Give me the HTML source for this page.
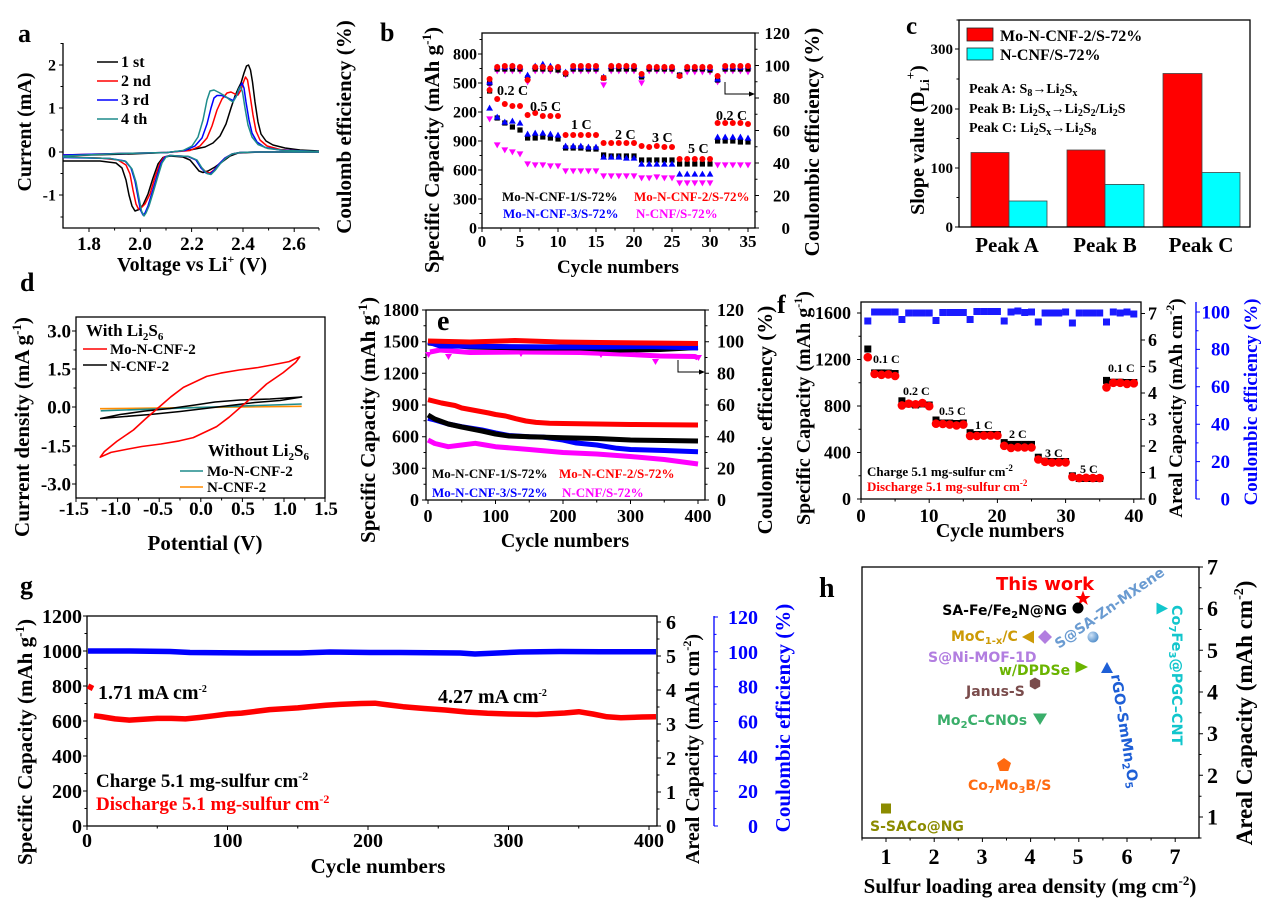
<!DOCTYPE html>
<html><head><meta charset="utf-8">
<style>
html,body{margin:0;padding:0;background:#fff;}
svg{display:block;}
.t{font-family:"Liberation Serif","Times New Roman",serif;font-weight:bold;}
.s{font-family:"DejaVu Sans","Liberation Sans",sans-serif;font-weight:bold;}
</style></head><body>
<svg width="1269" height="906" viewBox="0 0 1269 906" xmlns="http://www.w3.org/2000/svg">
<defs>
<marker id="bR" markerUnits="userSpaceOnUse" markerWidth="10" markerHeight="10" refX="5" refY="5" overflow="visible"><circle cx="5" cy="5" r="3" fill="#f00"/></marker>
<marker id="bK" markerUnits="userSpaceOnUse" markerWidth="10" markerHeight="10" refX="5" refY="5" overflow="visible"><rect x="2.4" y="2.4" width="5.2" height="5.2" fill="#000"/></marker>
<marker id="bB" markerUnits="userSpaceOnUse" markerWidth="10" markerHeight="10" refX="5" refY="5" overflow="visible"><path d="M5,1.6 L8.4,7.6 L1.6,7.6Z" fill="#00f"/></marker>
<marker id="bM" markerUnits="userSpaceOnUse" markerWidth="10" markerHeight="10" refX="5" refY="5" overflow="visible"><path d="M1.6,2.4 L8.4,2.4 L5,8.4Z" fill="#f0f"/></marker>
<marker id="fR" markerUnits="userSpaceOnUse" markerWidth="10" markerHeight="10" refX="5" refY="5" overflow="visible"><circle cx="5" cy="5" r="4.3" fill="#f00"/></marker>
<marker id="fK" markerUnits="userSpaceOnUse" markerWidth="10" markerHeight="10" refX="5" refY="5" overflow="visible"><rect x="1.5" y="1.5" width="7" height="7" fill="#000"/></marker>
<marker id="fB" markerUnits="userSpaceOnUse" markerWidth="10" markerHeight="10" refX="5" refY="5" overflow="visible"><rect x="1.5" y="1.5" width="7" height="7" fill="#1a1aff"/></marker>
<radialGradient id="sph" cx="0.35" cy="0.35" r="0.7"><stop offset="0" stop-color="#cfe3f7"/><stop offset="1" stop-color="#4f8cc9"/></radialGradient>
</defs>

<!-- ================= PANEL A ================= -->
<g fill="none" stroke="#000" stroke-width="1.3">
<path d="M63,43V228H319"/>
<path stroke-width="1" d="M59,65h4M59,108h4M59,152h4M59,195h4M60.5,86.5h2.5M60.5,130h2.5M60.5,173.5h2.5M60.5,217h2.5M60.5,43.5h2.5M89,228v4M140.3,228v4M191.6,228v4M243,228v4M294.2,228v4M114.6,228v2.5M166,228v2.5M217.3,228v2.5M268.6,228v2.5M319,228v2.5"/>
</g>
<g fill="none" stroke-width="1.5" stroke-linejoin="round">
<path stroke="#000" d="M63,156 L90,155 L130,154 L167,152.5 L190,150 L205,147 L213,143 L220,136 L226,124 L231,108 L235,96 L238,89 L241,83 L244,73 L246.5,66 L248.5,65 L250.5,70 L252.5,82 L255,102 L258,122 L261,134 L266,141 L273,145 L285,148 L300,150 L319,151"/>
<path stroke="#000" d="M319,152 L260,152 L238,153 L230,156 L222,162 L215,167 L208,171 L203,172.5 L199,171 L195,166 L190,160 L183,157 L170,156 L163,157.5 L158,164 L153,178 L148,194 L143,205 L139,209.5 L135,211 L132,206 L129,195 L126,180 L122,168 L116,163 L100,161 L63,161"/>
<path stroke="#f00" d="M63,155 L120,153.5 L167,152.5 L190,150.5 L200,146 L207,138 L212,126 L217,110 L222,99 L227,93 L231,92 L235,94 L238,95 L241,90 L243.5,82 L245.5,77 L247.5,80 L250,95 L253,115 L256,131 L260,140 L267,146 L280,149.5 L300,151 L319,151.5"/>
<path stroke="#f00" d="M319,152 L255,152 L240,152.5 L232,154 L225,158 L219,164 L214,170 L210,173 L206,172 L201,167 L196,160 L188,156.5 L170,155.5 L164,157 L160,163 L155,177 L150,194 L145,204 L141,208 L138.5,209 L136,204 L133,190 L130,174 L126,165 L118,160 L100,158 L63,157"/>
<path stroke="#00f" d="M63,155 L120,153.5 L167,152.5 L185,150.5 L195,146 L202,138 L207,124 L211,108 L214,98 L217,95.5 L222,95.5 L228,98 L233,100.5 L237,95 L240,87 L242,83 L244,88 L246,102 L249,120 L252,133 L257,142 L265,147.5 L280,150 L319,151.5"/>
<path stroke="#00f" d="M319,152 L255,152 L240,152.5 L232,154 L225,158 L219,164 L214,170.5 L210,174 L206,173 L201,168 L196,160 L188,156.5 L170,155.5 L165,157 L161,163 L157,176 L152,193 L148,206 L145,213 L143,215 L140.5,210 L138,197 L135,181 L131,168 L125,161 L110,158.5 L63,157.5"/>
<path stroke="#1e8c8c" d="M63,156 L120,153.5 L167,152.5 L183,150.5 L192,146 L198,137 L203,120 L207,100 L210,91 L214,90 L219,92.5 L225,96 L230,100 L233,102 L236,97 L239,88.5 L240.5,86.7 L242.5,92 L245,108 L248,125 L252,137 L258,144.5 L268,148.5 L285,150.5 L319,151.5"/>
<path stroke="#1e8c8c" d="M319,152 L255,152 L240,152.5 L232,154 L226,158 L220,164 L215,170.5 L211,174.5 L207,173.5 L202,168 L197,160 L189,156.5 L170,155.5 L166,157 L162,163 L158,176 L153,193 L149,206 L146,213 L144,216 L141.5,211 L139,198 L136,182 L132,169 L126,161.5 L110,158.5 L63,157"/>
<path stroke="#000" d="M97,62H118"/>
<path stroke="#f00" d="M97,81H118"/>
<path stroke="#00f" d="M97,100H118"/>
<path stroke="#1e8c8c" d="M97,119H118"/>
</g>
<g class="t" font-size="16">
<text x="121" y="67">1 st</text><text x="121" y="86">2 nd</text><text x="121" y="105">3 rd</text><text x="121" y="124">4 th</text>
</g>
<g class="t" font-size="16" text-anchor="end">
<text x="56" y="70.5">2</text><text x="56" y="113.5">1</text><text x="56" y="157.5">0</text><text x="56" y="200.5">-1</text>
</g>
<g class="t" font-size="19" text-anchor="middle">
<text x="89" y="250">1.8</text><text x="140" y="250">2.0</text><text x="192" y="250">2.2</text><text x="243" y="250">2.4</text><text x="294" y="250">2.6</text>
</g>
<text class="t" x="18" y="42" font-size="26">a</text>
<text class="t" font-size="20" text-anchor="middle" transform="translate(31,132) rotate(-90)">Current (mA)</text>
<text class="t" x="192" y="271" font-size="20" text-anchor="middle">Voltage vs Li<tspan font-size="12" dy="-8">+</tspan><tspan dy="8"> (V)</tspan></text>
<text class="t" font-size="21" text-anchor="middle" transform="translate(351,127) rotate(-90)">Coulomb efficiency (%)</text>

<!-- ================= PANEL B ================= -->
<g fill="none" stroke="#000" stroke-width="1.3">
<rect x="482" y="33" width="273" height="195"/>
<path stroke-width="1" d="M478,228h4M478,199h4M478,170h4M478,141h4M478,112h4M478,83h4M478,54h4M479.5,213.5h2.5M479.5,184.5h2.5M479.5,155.5h2.5M479.5,126.5h2.5M479.5,97.5h2.5M479.5,68.5h2.5M479.5,39.5h2.5M755,228h4M755,195.5h4M755,163h4M755,130.5h4M755,98h4M755,65.5h4M755,33h4M755,211.75h2.5M755,179.25h2.5M755,146.75h2.5M755,114.25h2.5M755,81.75h2.5M755,49.25h2.5M482,228v4M520,228v4M558,228v4M596,228v4M634,228v4M672,228v4M710,228v4M748,228v4M501,228v2.5M539,228v2.5M577,228v2.5M615,228v2.5M653,228v2.5M691,228v2.5M729,228v2.5"/>
<path stroke-width="1" d="M725,82V94H750"/>
</g>
<path d="M755,94 l-6,-2.5 v5z" fill="#000"/>
<g fill="none" stroke="none">
<polyline marker-start="url(#bM)" marker-mid="url(#bM)" marker-end="url(#bM)" points="489.6,85 497.2,71 504.8,71 512.4,71 520,71 527.6,82 535.2,71 542.8,71 550.4,71 558,71 565.6,75 573.2,71 580.8,71 588.4,71 596,71 603.6,85 611.2,71 618.8,71 626.4,71 634,71 641.6,83 649.2,71 656.8,71 664.4,71 672,71 679.6,76 687.2,72 694.8,72 702.4,72 710,72 717.6,82 725.2,71 732.8,71 740.4,71 748,72"/>
<polyline marker-start="url(#bK)" marker-mid="url(#bK)" marker-end="url(#bK)" points="489.6,83 497.2,69 504.8,69 512.4,69 520,69 527.6,78 535.2,69 542.8,69 550.4,69 558,70 565.6,74 573.2,69 580.8,69 588.4,69 596,69 603.6,78 611.2,69 618.8,69 626.4,69 634,69 641.6,77 649.2,69 656.8,69 664.4,69 672,69 679.6,75 687.2,69 694.8,69 702.4,69 710,70 717.6,80 725.2,69 732.8,69 740.4,69 748,69"/>
<polyline marker-start="url(#bB)" marker-mid="url(#bB)" marker-end="url(#bB)" points="489.6,82 497.2,67 504.8,67 512.4,66 520,67 527.6,75 535.2,66 542.8,64 550.4,66 558,67 565.6,72 573.2,67 580.8,67 588.4,67 596,67 603.6,77 611.2,66 618.8,66 626.4,66 634,66 641.6,75 649.2,67 656.8,67 664.4,67 672,67 679.6,75 687.2,67 694.8,67 702.4,67 710,68 717.6,79 725.2,67 732.8,67 740.4,67 748,66"/>
<polyline marker-start="url(#bR)" marker-mid="url(#bR)" marker-end="url(#bR)" points="489.6,79 497.2,67 504.8,66 512.4,66 520,67 527.6,80 535.2,67 542.8,67 550.4,68 558,67 565.6,73 573.2,66 580.8,66 588.4,66 596,66 603.6,78 611.2,66 618.8,66 626.4,66 634,66 641.6,74 649.2,67 656.8,67 664.4,67 672,67 679.6,76 687.2,67 694.8,67 702.4,67 710,67 717.6,76 725.2,66 732.8,66 740.4,66 748,66"/>
<polyline marker-start="url(#bM)" marker-mid="url(#bM)" marker-end="url(#bM)" points="489.6,119 497.2,145 504.8,150 512.4,152 520,154 527.6,164 535.2,165 542.8,165 550.4,166 558,166 565.6,171 573.2,171 580.8,171 588.4,171 596,171 603.6,176 611.2,176 618.8,176 626.4,176 634,176 641.6,178 649.2,178 656.8,177 664.4,178 672,178 679.6,183 687.2,183 694.8,183 702.4,183 710,183 717.6,165 725.2,165 732.8,165 740.4,165 748,165"/>
<polyline marker-start="url(#bK)" marker-mid="url(#bK)" marker-end="url(#bK)" points="489.6,91 497.2,118 504.8,123 512.4,127 520,130 527.6,138 535.2,138 542.8,137 550.4,138 558,139 565.6,148 573.2,148 580.8,148 588.4,149 596,149 603.6,155 611.2,156 618.8,156 626.4,156 634,156 641.6,160 649.2,160 656.8,160 664.4,160 672,160 679.6,164 687.2,164 694.8,164 702.4,164 710,164 717.6,141 725.2,141 732.8,141 740.4,142 748,142"/>
<polyline marker-start="url(#bB)" marker-mid="url(#bB)" marker-end="url(#bB)" points="489.6,108 497.2,117 504.8,122 512.4,121 520,123 527.6,134 535.2,133 542.8,133 550.4,134 558,135 565.6,146 573.2,146 580.8,146 588.4,147 596,147 603.6,157 611.2,157 618.8,157 626.4,158 634,158 641.6,164 649.2,164 656.8,164 664.4,164 672,164 679.6,174 687.2,174 694.8,174 702.4,174 710,174 717.6,137 725.2,137 732.8,137 740.4,137 748,138"/>
<polyline marker-start="url(#bR)" marker-mid="url(#bR)" marker-end="url(#bR)" points="489.6,90 497.2,99 504.8,104 512.4,106 520,106 527.6,115 535.2,113 542.8,116 550.4,116 558,116 565.6,135 573.2,135 580.8,135 588.4,135 596,135 603.6,143 611.2,143 618.8,143 626.4,143 634,143 641.6,146 649.2,147 656.8,146 664.4,147 672,147 679.6,159 687.2,159 694.8,159 702.4,159 710,159 717.6,123 725.2,123 732.8,123 740.4,123 748,124"/>
</g>
<g class="t" font-size="16" text-anchor="end">
<text x="477" y="233.5">0</text><text x="477" y="204.5">300</text><text x="477" y="175.5">600</text><text x="477" y="146.5">900</text><text x="477" y="117.5">200</text><text x="477" y="88.5">500</text><text x="477" y="59.5">800</text>
</g>
<g class="t" font-size="17" text-anchor="end">
<text x="790" y="234">0</text><text x="790" y="201.5">20</text><text x="790" y="169">40</text><text x="790" y="136.5">60</text><text x="790" y="104">80</text><text x="790" y="71.5">100</text><text x="790" y="39">120</text>
</g>
<g class="t" font-size="17" text-anchor="middle">
<text x="482" y="247">0</text><text x="520" y="247">5</text><text x="558" y="247">10</text><text x="596" y="247">15</text><text x="634" y="247">20</text><text x="672" y="247">25</text><text x="710" y="247">30</text><text x="748" y="247">35</text>
</g>
<g class="t" font-size="14">
<text x="497" y="95">0.2 C</text><text x="530" y="111">0.5 C</text><text x="571" y="129">1 C</text><text x="615" y="139">2 C</text><text x="652" y="142">3 C</text><text x="688" y="153">5 C</text><text x="716" y="120">0.2 C</text>
</g>
<g class="t" font-size="13">
<text x="502" y="201" fill="#000">Mo-N-CNF-1/S-72%</text>
<text x="634" y="201" fill="#f00">Mo-N-CNF-2/S-72%</text>
<text x="503" y="218" fill="#00f">Mo-N-CNF-3/S-72%</text>
<text x="636" y="218" fill="#f0f">N-CNF/S-72%</text>
</g>
<text class="t" x="380" y="41" font-size="26">b</text>
<text class="t" font-size="21" text-anchor="middle" transform="translate(439,150) rotate(-90)">Specific Capacity (mAh g<tspan font-size="13" dy="-8">-1</tspan><tspan dy="8">)</tspan></text>
<text class="t" font-size="21" text-anchor="middle" transform="translate(819,142) rotate(-90)">Coulombic efficiency (%)</text>
<text class="t" x="618" y="273" font-size="19" text-anchor="middle">Cycle numbers</text>

<!-- ================= PANEL C ================= -->
<g stroke="#444" stroke-width="0.8">
<rect x="971" y="152.5" width="38" height="74.5" fill="#f00"/>
<rect x="1009" y="201" width="38" height="26" fill="#0ff"/>
<rect x="1067" y="150" width="38" height="77" fill="#f00"/>
<rect x="1105" y="184.4" width="39" height="42.6" fill="#0ff"/>
<rect x="1163" y="73.5" width="39" height="153.5" fill="#f00"/>
<rect x="1202" y="172.5" width="38" height="54.5" fill="#0ff"/>
<rect x="967" y="28" width="26" height="13" fill="#f00" stroke="#222"/>
<rect x="967" y="48" width="26" height="12" fill="#0ff" stroke="#222"/>
</g>
<g fill="none" stroke="#000" stroke-width="1.3">
<rect x="959" y="20" width="291" height="207"/>
<path stroke-width="1" d="M955,227h4M955,168h4M955,109h4M955,49h4M956.5,197.5h2.5M956.5,138.5h2.5M956.5,79h2.5M956.5,20h2.5"/>
</g>
<g class="t" font-size="15" text-anchor="end">
<text x="953" y="232">0</text><text x="953" y="173">100</text><text x="953" y="114">200</text><text x="953" y="54">300</text>
</g>
<g class="t" font-size="16">
<text x="1000" y="41">Mo-N-CNF-2/S-72%</text>
<text x="1000" y="60">N-CNF/S-72%</text>
</g>
<g class="t" font-size="14">
<text x="969" y="93">Peak A: S<tspan font-size="10" dy="3">8</tspan><tspan dy="-3">→Li</tspan><tspan font-size="10" dy="3">2</tspan><tspan dy="-3">S</tspan><tspan font-size="10" dy="3">x</tspan></text>
<text x="969" y="113">Peak B: Li<tspan font-size="10" dy="3">2</tspan><tspan dy="-3">S</tspan><tspan font-size="10" dy="3">x</tspan><tspan dy="-3">→Li</tspan><tspan font-size="10" dy="3">2</tspan><tspan dy="-3">S</tspan><tspan font-size="10" dy="3">2</tspan><tspan dy="-3">/Li</tspan><tspan font-size="10" dy="3">2</tspan><tspan dy="-3">S</tspan></text>
<text x="969" y="132">Peak C: Li<tspan font-size="10" dy="3">2</tspan><tspan dy="-3">S</tspan><tspan font-size="10" dy="3">x</tspan><tspan dy="-3">→Li</tspan><tspan font-size="10" dy="3">2</tspan><tspan dy="-3">S</tspan><tspan font-size="10" dy="3">8</tspan></text>
</g>
<g class="t" font-size="21" text-anchor="middle">
<text x="1007" y="252">Peak A</text><text x="1105" y="252">Peak B</text><text x="1201" y="252">Peak C</text>
</g>
<text class="t" x="906" y="34" font-size="25">c</text>
<text class="t" font-size="20" text-anchor="middle" transform="translate(924,140) rotate(-90)">Slope value (D<tspan font-size="13" dy="5">Li</tspan><tspan font-size="13" dy="-14">+</tspan><tspan dy="9">)</tspan></text>

<!-- ================= PANEL D ================= -->
<g fill="none" stroke="#000" stroke-width="1.3">
<rect x="76" y="317" width="249" height="181"/>
<path stroke-width="1" d="M72,331h4M72,369h4M72,407h4M72,446h4M72,484h4M73.5,350h2.5M73.5,388h2.5M73.5,426.5h2.5M73.5,465h2.5M76,498v4M117.6,498v4M159.2,498v4M200.8,498v4M242.4,498v4M284,498v4M325,498v4M96.8,498v2.5M138.4,498v2.5M180,498v2.5M221.6,498v2.5M263.2,498v2.5M304.8,498v2.5"/>
</g>
<g fill="none" stroke-width="1.6" stroke-linejoin="round">
<path stroke="#ff8c00" d="M100,408.7 L301.7,406.3"/>
<path stroke="#1e8c8c" d="M100.7,410.8 L301.7,404"/>
<path stroke="#000" d="M100.7,418.5 L120,414.5 L145,411 L170,408.5 L195,405 L215,402 L240,400 L270,399 L301.7,397 L280,400.5 L255,402.5 L230,405.5 L205,408.5 L180,411.5 L150,414.5 L125,416.5 Z"/>
<path stroke="#f00" d="M100.2,457.2 L104.3,451.6 L116.8,441.4 L133.4,430 L145.9,418.5 L159.2,407 L170.9,396.8 L183.4,387.4 L206.7,376.4 L220.8,373.1 L239.1,370 L258.2,367.5 L272.4,364.9 L289,361.6 L299.8,356.8 L295.7,362.4 L283.2,372.6 L266.6,384 L254.1,395.5 L240.8,407 L229.1,417.2 L216.6,426.6 L193.3,437.6 L179.2,440.9 L160.9,444 L141.8,446.5 L127.6,449.1 L111,452.4 Z"/>
<path stroke="#f00" d="M83,349H107"/>
<path stroke="#000" d="M83,365H107"/>
<path stroke="#1e8c8c" d="M180,471H203"/>
<path stroke="#ff8c00" d="M180,487H203"/>
</g>
<text class="t" x="86" y="336" font-size="17">With Li<tspan font-size="11" dy="4">2</tspan><tspan dy="-4">S</tspan><tspan font-size="11" dy="4">6</tspan></text>
<text class="t" x="110" y="354" font-size="15">Mo-N-CNF-2</text>
<text class="t" x="110" y="371" font-size="15">N-CNF-2</text>
<text class="t" x="208" y="456" font-size="17">Without Li<tspan font-size="11" dy="4">2</tspan><tspan dy="-4">S</tspan><tspan font-size="11" dy="4">6</tspan></text>
<text class="t" x="207" y="476" font-size="15">Mo-N-CNF-2</text>
<text class="t" x="207" y="492" font-size="15">N-CNF-2</text>
<g class="t" font-size="19" text-anchor="end">
<text x="71" y="337.5">3.0</text><text x="71" y="375.5">1.5</text><text x="71" y="413.5">0.0</text><text x="71" y="452.5">-1.5</text><text x="71" y="490.5">-3.0</text>
</g>
<g class="t" font-size="19" text-anchor="middle">
<text x="74" y="515">-1.5</text><text x="116" y="515">-1.0</text><text x="158" y="515">-0.5</text><text x="201" y="515">0.0</text><text x="243" y="515">0.5</text><text x="285" y="515">1.0</text><text x="326" y="515">1.5</text>
</g>
<text class="t" x="20" y="291" font-size="26">d</text>
<text class="t" font-size="21" text-anchor="middle" transform="translate(29,427) rotate(-90)">Current density (mA g<tspan font-size="13" dy="-8">-1</tspan><tspan dy="8">)</tspan></text>
<text class="t" x="205" y="550" font-size="21" text-anchor="middle">Potential (V)</text>

<!-- ================= PANEL E ================= -->
<g fill="none" stroke="#000" stroke-width="1.3">
<rect x="426" y="310" width="279" height="190"/>
<path stroke-width="1" d="M422,500h4M422,468.3h4M422,436.7h4M422,405h4M422,373.3h4M422,341.7h4M422,310h4M423.5,484.2h2.5M423.5,452.5h2.5M423.5,420.8h2.5M423.5,389.2h2.5M423.5,357.5h2.5M423.5,325.8h2.5M705,500h4M705,468.3h4M705,436.7h4M705,405h4M705,373.3h4M705,341.7h4M705,310h4M705,484.2h2.5M705,452.5h2.5M705,420.8h2.5M705,389.2h2.5M705,357.5h2.5M705,325.8h2.5M428,500v4M495.5,500v4M563,500v4M630.5,500v4M698,500v4M461.75,500v2.5M529.25,500v2.5M596.75,500v2.5M664.25,500v2.5"/>
<path stroke-width="1" d="M678,360V372H700"/>
</g>
<path d="M705,372 l-6,-2.5 v5z" fill="#000"/>
<g fill="none" stroke-width="5" stroke-linejoin="round">
<polyline stroke="#f0f" points="430,352 440,350 470,352.5 520,352 580,352.5 620,354 660,356 695,356.5 698,358"/>
<polyline stroke="#000" points="428,343 470,347 530,348 580,348 620,350 660,349.5 698,347.5"/>
<polyline stroke="#00f" points="428,342 440,346 500,346.5 560,347 600,347 650,346.5 698,348"/>
<polyline stroke="#f00" points="428,341 470,342 515,340.5 560,342 600,342.5 650,343 698,343.5"/>
<polyline stroke="#f0f" points="428,440 434.75,443.5 448.25,446.7 461.75,445 475.25,443.3 485.4,445 495.5,446.7 529.25,449.5 563,452.5 596.75,454 630.5,456.5 664.25,459.5 698,464"/>
<polyline stroke="#00f" points="428,418.3 434.75,420 448.25,424 461.75,426.7 482,430 495.5,433 509,435.5 529.25,436.7 542.75,437 563,440 576.5,443 596.75,445 617,448.3 630.5,449.5 664.25,450.5 698,451.7"/>
<polyline stroke="#000" points="428,415 434.75,419 448.25,424 461.75,427 482,431 495.5,434 509,436 529.25,436.7 563,437.7 596.75,438.5 630.5,440 664.25,440.5 698,441"/>
<polyline stroke="#f00" points="428,399.7 441.5,403 455,405.5 461.75,408 475.25,410.5 488.75,413 495.5,414.5 505.6,416 515.75,418.7 525.9,421 536,422.4 549.5,423.2 563,423.5 596.75,424 630.5,424.5 664.25,424.8 698,425"/>
</g>
<g fill="#f0f">
<path d="M425,352h7l-3.5,6z"/><path d="M445,354h7l-3.5,6z"/><path d="M652,359h7l-3.5,6z"/><path d="M695,355h7l-3.5,6z"/><path d="M518,352h6l-3,5z"/><path d="M598,353h6l-3,5z"/>
</g>
<g class="t" font-size="18" text-anchor="end">
<text x="419" y="506">0</text><text x="419" y="474.3">300</text><text x="419" y="442.7">600</text><text x="419" y="411">900</text><text x="419" y="379.3">1200</text><text x="419" y="347.7">1500</text><text x="419" y="316">1800</text>
</g>
<g class="t" font-size="18">
<text x="717" y="506">0</text><text x="717" y="474.3">20</text><text x="717" y="442.7">40</text><text x="717" y="411">60</text><text x="717" y="379.3">80</text><text x="717" y="347.7">100</text><text x="717" y="316">120</text>
</g>
<g class="t" font-size="18" text-anchor="middle">
<text x="428" y="522">0</text><text x="495.5" y="522">100</text><text x="563" y="522">200</text><text x="630.5" y="522">300</text><text x="698" y="522">400</text>
</g>
<g class="t" font-size="13">
<text x="432" y="478" fill="#000">Mo-N-CNF-1/S-72%</text>
<text x="559" y="478" fill="#f00">Mo-N-CNF-2/S-72%</text>
<text x="432" y="497" fill="#00f">Mo-N-CNF-3/S-72%</text>
<text x="562" y="497" fill="#f0f">N-CNF/S-72%</text>
</g>
<text class="t" x="437" y="330" font-size="28">e</text>
<text class="t" font-size="21" text-anchor="middle" transform="translate(375,420) rotate(-90)">Specific Capacity (mAh g<tspan font-size="13" dy="-8">-1</tspan><tspan dy="8">)</tspan></text>
<text class="t" font-size="21" text-anchor="middle" transform="translate(772,420) rotate(-90)">Coulombic efficiency (%)</text>
<text class="t" x="565" y="547" font-size="20" text-anchor="middle">Cycle numbers</text>

<!-- ================= PANEL F ================= -->
<g fill="none" stroke="#000" stroke-width="1.3">
<rect x="861" y="302" width="280" height="197"/>
<path stroke-width="1" d="M857,499h4M857,452.5h4M857,406h4M857,359.5h4M857,313h4M858.5,475.75h2.5M858.5,429.25h2.5M858.5,382.75h2.5M858.5,336.25h2.5M1141,499h4M1141,472.5h4M1141,446h4M1141,419.5h4M1141,393h4M1141,366.5h4M1141,340h4M1141,313.5h4M861,499v4M929.2,499v4M997.4,499v4M1065.6,499v4M1133.8,499v4M895.1,499v2.5M963.3,499v2.5M1031.5,499v2.5M1099.7,499v2.5"/>
</g>
<g fill="none" stroke="#00f" stroke-width="1.3">
<path d="M1196,302V499"/>
<path stroke-width="1" d="M1196,499h4M1196,461.6h4M1196,424.2h4M1196,386.8h4M1196,349.4h4M1196,312h4M1196,480.3h2.5M1196,442.9h2.5M1196,405.5h2.5M1196,368.1h2.5M1196,330.7h2.5"/>
</g>
<g fill="none" stroke="none">
<polyline marker-start="url(#fB)" marker-mid="url(#fB)" marker-end="url(#fB)" points="867.8,321 874.6,312 881.5,312 888.3,312 895.1,312 901.9,319.5 908.7,313 915.6,313 922.4,313 929.2,313 936,320.5 942.8,312.5 949.7,312.5 956.5,312.5 963.3,312.5 970.1,319.5 976.9,311.5 983.8,311.5 990.6,311.5 997.4,311.5 1004.2,321 1011,312 1017.9,311 1024.7,312.5 1031.5,312 1038.3,322 1045.1,313 1052,313 1058.8,313 1065.6,312 1072.4,323 1079.2,313 1086.1,313 1092.9,313 1099.7,313 1106.5,322 1113.3,312 1120.2,313 1127,312 1133.8,314"/>
<polyline marker-start="url(#fK)" marker-mid="url(#fK)" marker-end="url(#fK)" points="867.8,349 874.6,372.9 881.5,372.9 888.3,373 895.1,373.5 901.9,400.8 908.7,404 915.6,405 922.4,404 929.2,405 936,420 942.8,423 949.7,423 956.5,423.5 963.3,423 970.1,432.7 976.9,434.5 983.8,434.5 990.6,434.5 997.4,434.5 1004.2,442.6 1011,444.4 1017.9,444.4 1024.7,444.4 1031.5,444.4 1038.3,457.2 1045.1,461.2 1052,461.5 1058.8,461.5 1065.6,461.5 1072.4,475.8 1079.2,478.5 1086.1,478.5 1092.9,478.5 1099.7,478.5 1106.5,380.4 1113.3,382.2 1120.2,382.2 1127,382.5 1133.8,382.5"/>
<polyline marker-start="url(#fR)" marker-mid="url(#fR)" marker-end="url(#fR)" points="867.8,357.2 874.6,374 881.5,374.8 888.3,374.4 895.1,376 901.9,405.4 908.7,403.7 915.6,404.3 922.4,403.1 929.2,406.2 936,423.7 942.8,424 949.7,424.6 956.5,425.5 963.3,424.6 970.1,435.9 976.9,435.9 983.8,435.6 990.6,435.6 997.4,435.6 1004.2,445.8 1011,447.9 1017.9,447.3 1024.7,447.5 1031.5,447.5 1038.3,459.5 1045.1,461.8 1052,462.6 1058.8,462.4 1065.6,462.4 1072.4,476.9 1079.2,478.1 1086.1,477.8 1092.9,478.1 1099.7,478.1 1106.5,387.4 1113.3,382.8 1120.2,382.8 1127,383.9 1133.8,383.3"/>
</g>
<g class="t" font-size="12">
<text x="873" y="363">0.1 C</text><text x="903" y="395">0.2 C</text><text x="939" y="415">0.5 C</text><text x="975" y="429">1 C</text><text x="1009" y="438">2 C</text><text x="1045" y="457">3 C</text><text x="1080" y="473">5 C</text><text x="1108" y="372">0.1 C</text>
</g>
<text class="t" x="867" y="476" font-size="13" fill="#000">Charge 5.1 mg-sulfur cm<tspan font-size="9" dy="-5">-2</tspan></text>
<text class="t" x="867" y="491" font-size="13" fill="#f00">Discharge 5.1 mg-sulfur cm<tspan font-size="9" dy="-5">-2</tspan></text>
<g class="t" font-size="18" text-anchor="end">
<text x="851" y="505">0</text><text x="851" y="458.5">400</text><text x="851" y="412">800</text><text x="851" y="365.5">1200</text><text x="851" y="319">1600</text>
</g>
<g class="t" font-size="18">
<text x="1148" y="505">0</text><text x="1148" y="478.5">1</text><text x="1148" y="452">2</text><text x="1148" y="425.5">3</text><text x="1148" y="399">4</text><text x="1148" y="372.5">5</text><text x="1148" y="346">6</text><text x="1148" y="319.5">7</text>
</g>
<g class="t" font-size="19" text-anchor="end" fill="#00f">
<text x="1230" y="505.5">0</text><text x="1230" y="468">20</text><text x="1230" y="430.5">40</text><text x="1230" y="393">60</text><text x="1230" y="355.5">80</text><text x="1230" y="318.5">100</text>
</g>
<g class="t" font-size="19" text-anchor="middle">
<text x="861" y="522">0</text><text x="929" y="522">10</text><text x="997" y="522">20</text><text x="1066" y="522">30</text><text x="1134" y="522">40</text>
</g>
<text class="t" x="777" y="313" font-size="26">f</text>
<text class="t" font-size="20" text-anchor="middle" transform="translate(810,408) rotate(-90)">Specific Capacity (mAh g<tspan font-size="12" dy="-8">-1</tspan><tspan dy="8">)</tspan></text>
<text class="t" font-size="19" text-anchor="middle" transform="translate(1182,408) rotate(-90)">Areal Capacity (mAh cm<tspan font-size="12" dy="-8">-2</tspan><tspan dy="8">)</tspan></text>
<text class="t" font-size="19" text-anchor="middle" fill="#00f" transform="translate(1257,402) rotate(-90)">Coulombic efficiency (%)</text>
<text class="t" x="1000" y="537" font-size="20" text-anchor="middle">Cycle numbers</text>

<!-- ================= PANEL G ================= -->
<g fill="none" stroke="#000" stroke-width="1.3">
<rect x="87" y="616" width="570" height="210"/>
<path stroke-width="1" d="M83,826h4M83,791h4M83,756h4M83,721h4M83,686h4M83,651h4M83,616h4M84.5,808.5h2.5M84.5,773.5h2.5M84.5,738.5h2.5M84.5,703.5h2.5M84.5,668.5h2.5M84.5,633.5h2.5M657,826h4M657,792h4M657,758h4M657,724h4M657,690h4M657,656h4M657,622h4M657,809h2.5M657,775h2.5M657,741h2.5M657,707h2.5M657,673h2.5M657,639h2.5M87,826v4M227.5,826v4M368,826v4M508.5,826v4M649,826v4M157.25,826v2.5M297.75,826v2.5M438.25,826v2.5M578.75,826v2.5"/>
</g>
<g fill="none" stroke="#00f" stroke-width="1.3">
<path d="M714,616V826"/>
<path stroke-width="1" d="M714,826h4M714,791.2h4M714,756.3h4M714,721.5h4M714,686.7h4M714,651.8h4M714,617h4M714,808.6h2.5M714,773.8h2.5M714,738.9h2.5M714,704.1h2.5M714,669.3h2.5M714,634.4h2.5"/>
</g>
<g fill="none" stroke-width="5.5" stroke-linejoin="round">
<polyline stroke="#00f" points="88,651 130,651 170,651.5 190,652.5 250,653 300,653 330,652 370,652.5 400,652.5 460,653 475,654 520,652 560,651.5 600,651.7 656,651.7"/>
<polyline stroke="#f00" points="88,686 93,688.5"/>
<polyline stroke="#f00" points="94,715.7 101,716.6 115.1,718.9 129.2,720.1 143.2,719.3 157.3,718.4 171.3,718.4 185.4,718.9 199.4,717.5 213.5,715.8 227.5,714 241.6,713.1 255.6,711.4 269.7,709.6 283.7,708.8 297.8,707.9 311.8,706.5 325.9,705.3 339.9,704.4 361,703.5 375,703.2 389.1,705 403.1,706.7 424.2,708.5 445.3,710 466.4,712 487.4,713.3 508.5,714 536.6,714.5 564.7,713 578.8,711.7 592.8,714 606.9,716.8 620.9,717.7 642,717 656,716.7"/>
</g>
<text class="t" x="98" y="699" font-size="20">1.71 mA cm<tspan font-size="10" dy="-7">-2</tspan></text>
<text class="t" x="438" y="703" font-size="20">4.27 mA cm<tspan font-size="10" dy="-7">-2</tspan></text>
<text class="t" x="96" y="787" font-size="19" fill="#000">Charge 5.1 mg-sulfur cm<tspan font-size="12" dy="-7">-2</tspan></text>
<text class="t" x="96" y="810" font-size="19" fill="#f00">Discharge 5.1 mg-sulfur cm<tspan font-size="12" dy="-7">-2</tspan></text>
<g class="t" font-size="20" text-anchor="end">
<text x="82" y="833">0</text><text x="82" y="798">200</text><text x="82" y="763">400</text><text x="82" y="728">600</text><text x="82" y="693">800</text><text x="82" y="658">1000</text><text x="82" y="623">1200</text>
</g>
<g class="t" font-size="20" text-anchor="middle">
<text x="87" y="847">0</text><text x="227.5" y="847">100</text><text x="368" y="847">200</text><text x="508.5" y="847">300</text><text x="649" y="847">400</text>
</g>
<g class="t" font-size="20">
<text x="666" y="833">0</text><text x="666" y="799">1</text><text x="666" y="765">2</text><text x="666" y="731">3</text><text x="666" y="697">4</text><text x="666" y="663">5</text><text x="666" y="629">6</text>
</g>
<g class="t" font-size="20" text-anchor="end" fill="#00f">
<text x="758" y="833">0</text><text x="758" y="798.2">20</text><text x="758" y="763.3">40</text><text x="758" y="728.5">60</text><text x="758" y="693.7">80</text><text x="758" y="658.8">100</text><text x="758" y="624">120</text>
</g>
<text class="t" x="20" y="594" font-size="26">g</text>
<text class="t" font-size="21" text-anchor="middle" transform="translate(32,742) rotate(-90)">Specific Capacity (mAh g<tspan font-size="13" dy="-8">-1</tspan><tspan dy="8">)</tspan></text>
<text class="t" font-size="20" text-anchor="middle" transform="translate(699,749) rotate(-90)">Areal Capacity (mAh cm<tspan font-size="12" dy="-8">-2</tspan><tspan dy="8">)</tspan></text>
<text class="t" font-size="21" text-anchor="middle" fill="#00f" transform="translate(790,718) rotate(-90)">Coulombic efficiency (%)</text>
<text class="t" x="378" y="873" font-size="21" text-anchor="middle">Cycle numbers</text>

<!-- ================= PANEL H ================= -->
<g fill="none" stroke="#000" stroke-width="1.3">
<rect x="862" y="567" width="337" height="271"/>
<path stroke-width="1" d="M886,838v4M934.2,838v4M982.4,838v4M1030.6,838v4M1078.8,838v4M1127,838v4M1175.2,838v4M862,838v2.5M910.1,838v2.5M958.3,838v2.5M1006.5,838v2.5M1054.7,838v2.5M1102.9,838v2.5M1151.1,838v2.5M1199,817h4M1199,775.3h4M1199,733.7h4M1199,692h4M1199,650.3h4M1199,608.7h4M1199,567h4M1199,838h2.5M1199,796.2h2.5M1199,754.5h2.5M1199,712.8h2.5M1199,671.2h2.5M1199,629.5h2.5M1199,587.8h2.5"/>
</g>
<path d="M1083,590.5 L1085,596 L1090.5,596 L1086,599.5 L1087.8,605 L1083,601.5 L1078.2,605 L1080,599.5 L1075.5,596 L1081,596Z" fill="#f00"/>
<circle cx="1078" cy="608" r="5.5" fill="#000"/>
<path d="M1022,637 L1034,630.5 L1034,643.5Z" fill="#cc9a06"/>
<path d="M1045,630 L1052,637 L1045,644 L1038,637Z" fill="#b27ee0"/>
<circle cx="1093" cy="637" r="5.5" fill="url(#sph)"/>
<path d="M1075.5,661 L1088,667 L1075.5,673Z" fill="#6ab400"/>
<path d="M1101,673 L1107,662 L1113,673Z" fill="#1e5fd6"/>
<path d="M1156.5,602.5 L1168,608.5 L1156.5,614.5Z" fill="#12c6cc"/>
<path d="M1035,677.5 L1040.2,680.5 L1040.2,686.5 L1035,689.5 L1029.8,686.5 L1029.8,680.5Z" fill="#7a4c4c"/>
<path d="M1033,713.5 L1047,713.5 L1040,725Z" fill="#3aae6a"/>
<path d="M1004,758 L1011,763 L1008.3,771 L999.7,771 L997,763Z" fill="#ff6a10"/>
<rect x="881" y="803.5" width="10" height="10" fill="#8b8b00"/>
<text class="s" x="996" y="590" font-size="18" fill="#ff0000">This work</text>
<text class="s" x="1067" y="615" font-size="14" fill="#000" text-anchor="end">SA-Fe/Fe<tspan font-size="10" dy="3">2</tspan><tspan dy="-3">N@NG</tspan></text>
<text class="s" x="951" y="641" font-size="14" fill="#cc9a06">MoC<tspan font-size="10" dy="3">1-x</tspan><tspan dy="-3">/C</tspan></text>
<text class="s" x="928" y="662" font-size="14" fill="#b27ee0">S@Ni-MOF-1D</text>
<text class="s" x="999" y="675" font-size="14" fill="#6ab400">w/DPDSe</text>
<text class="s" x="966" y="696" font-size="14" fill="#7a4c4c">Janus-S</text>
<text class="s" x="937" y="725" font-size="14" fill="#3aae6a">Mo<tspan font-size="10" dy="3">2</tspan><tspan dy="-3">C–CNOs</tspan></text>
<text class="s" x="968" y="790" font-size="14" fill="#ff6a10">Co<tspan font-size="10" dy="3">7</tspan><tspan dy="-3">Mo</tspan><tspan font-size="10" dy="3">3</tspan><tspan dy="-3">B/S</tspan></text>
<text class="s" x="870" y="831" font-size="14" fill="#8b8b00">S-SACo@NG</text>
<text class="s" font-size="14" fill="#6a9bd1" transform="translate(1059,649) rotate(-35)">S@SA-Zn-MXene</text>
<text class="s" font-size="14.5" fill="#1e5fd6" transform="translate(1111,675) rotate(81)">rGO–SmMn<tspan font-size="10" dy="3">2</tspan><tspan dy="-3">O</tspan><tspan font-size="10" dy="3">5</tspan></text>
<text class="s" font-size="14.4" fill="#12c6cc" transform="translate(1172,605) rotate(90)">Co<tspan font-size="10" dy="3">7</tspan><tspan dy="-3">Fe</tspan><tspan font-size="10" dy="3">3</tspan><tspan dy="-3">@PGC–CNT</tspan></text>
<g class="t" font-size="22" text-anchor="middle">
<text x="886" y="864">1</text><text x="934" y="864">2</text><text x="982" y="864">3</text><text x="1030" y="864">4</text><text x="1078" y="864">5</text><text x="1127" y="864">6</text><text x="1175" y="864">7</text>
</g>
<g class="t" font-size="22">
<text x="1207" y="824.5">1</text><text x="1207" y="782.8">2</text><text x="1207" y="741.2">3</text><text x="1207" y="699.5">4</text><text x="1207" y="657.8">5</text><text x="1207" y="616.2">6</text><text x="1207" y="574.5">7</text>
</g>
<text class="t" x="819" y="597" font-size="28">h</text>
<text class="t" x="1030" y="893" font-size="21" text-anchor="middle">Sulfur loading area density (mg cm<tspan font-size="13" dy="-8">-2</tspan><tspan dy="8">)</tspan></text>
<text class="t" font-size="23" text-anchor="middle" transform="translate(1252,713) rotate(-90)">Areal Capacity (mAh cm<tspan font-size="14" dy="-9">-2</tspan><tspan dy="9">)</tspan></text>
</svg>
</body></html>
